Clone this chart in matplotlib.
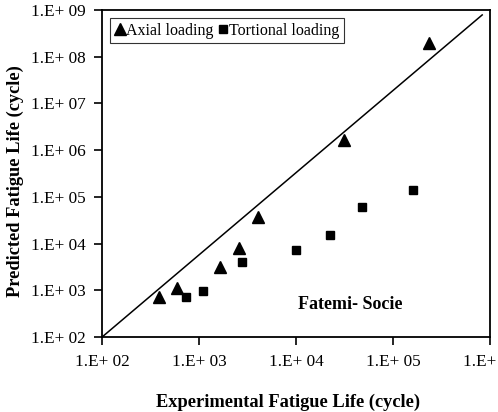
import numpy as np
import matplotlib
matplotlib.use("Agg")
import matplotlib.pyplot as plt

# experimental vs predicted fatigue life (cycles)
axial_exp = [383, 591, 1640, 2590, 4060, 31100, 233000]
axial_pred = [730, 1140, 3200, 7900, 37700, 1.65e6, 1.95e8]

tors_exp = [731, 1110, 2750, 9900, 22500, 48100, 160000]
tors_pred = [730, 980, 4100, 7300, 15500, 61700, 140600]

# reference line drawn corner to corner
line_x = [1e2, 8.3e5]
line_y = [1e2, 7.8e8]

xticks = [1e2, 1e3, 1e4, 1e5, 1e6]
xtick_labels = ["1.E+ 02", "1.E+ 03", "1.E+ 04", "1.E+ 05", "1.E+ 06"]
yticks = [1e2, 1e3, 1e4, 1e5, 1e6, 1e7, 1e8, 1e9]
ytick_labels = ["1.E+ 02", "1.E+ 03", "1.E+ 04", "1.E+ 05",
                "1.E+ 06", "1.E+ 07", "1.E+ 08", "1.E+ 09"]

plt.rcParams["font.family"] = ["Liberation Serif", "DejaVu Serif"]

fig = plt.figure(figsize=(4.98, 4.12), dpi=100)
ax = fig.add_axes([0.205, 0.182, 0.779, 0.794])

ax.plot(line_x, line_y, color="black", linewidth=1.1)
ax.plot(axial_exp, axial_pred, linestyle="none", marker="^", markersize=8.5,
        color="black", label="Axial loading")
ax.plot(tors_exp, tors_pred, linestyle="none", marker="s", markersize=6,
        color="black", label="Tortional loading")

ax.set_xscale("log")
ax.set_yscale("log")
ax.set_xlim(1e2, 1e6)
ax.set_ylim(1e2, 1e9)
ax.minorticks_off()
ax.set_xticks(xticks)
ax.set_xticklabels(xtick_labels)
ax.set_yticks(yticks)
ax.set_yticklabels(ytick_labels)
ax.tick_params(axis="both", which="major", labelsize=12.4, length=6,
               width=1.2, direction="out", pad=6)
for side in ax.spines.values():
    side.set_linewidth(1.3)

ax.set_xlabel("Experimental Fatigue Life (cycle)", fontsize=13.2,
              fontweight="bold")
ax.set_ylabel("Predicted Fatigue Life (cycle)", fontsize=13.2,
              fontweight="bold")
ax.xaxis.set_label_coords(0.478, -0.2, transform=ax.transAxes)
ax.yaxis.set_label_coords(-0.224, 0.478, transform=ax.transAxes)
ax.xaxis.label.set_va("center")
ax.yaxis.label.set_va("center")

ax.text(0.64, 0.1, "Fatemi- Socie", transform=ax.transAxes, fontsize=13,
        fontweight="bold", ha="center", va="center")

leg = ax.legend(loc="upper left", ncol=2, fontsize=11.5, frameon=True,
                fancybox=False, edgecolor="black", handlelength=0.6,
                handletextpad=0.1, columnspacing=0.3, borderpad=0.3,
                borderaxespad=0.5)
leg.get_frame().set_linewidth(0.8)

fig.savefig("out.png", dpi=100)
